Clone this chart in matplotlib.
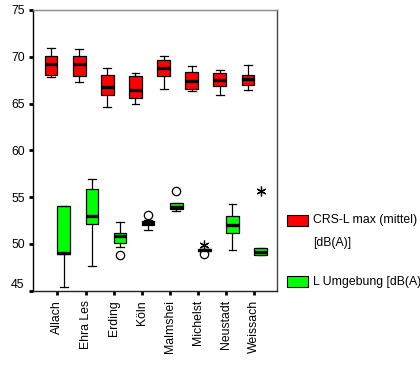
import matplotlib
matplotlib.use("Agg")
import matplotlib.pyplot as plt
from matplotlib.patches import Rectangle
from matplotlib.transforms import ScaledTranslation

plt.rcParams['font.family'] = ['Liberation Sans', 'DejaVu Sans']

sites = ["Allach", "Ehra Les", "Erding", "Köln", "Malmshei",
         "Michelst", "Neustadt", "Weissach"]

# CRS-L max (mittel) [dB(A)]: whisker low, Q1, median, Q3, whisker high
crs_whislo = [67.8, 67.3, 64.6, 65.0, 66.5, 66.3, 65.9, 66.4]
crs_q1     = [68.0, 67.9, 65.9, 65.6, 67.9, 66.6, 66.9, 67.0]
crs_med    = [69.2, 69.2, 66.8, 66.4, 68.75, 67.4, 67.5, 67.6]
crs_q3     = [70.1, 70.1, 68.0, 67.9, 69.6, 68.4, 68.3, 68.1]
crs_whishi = [70.9, 70.8, 68.8, 68.3, 70.1, 69.0, 68.6, 69.1]

# L Umgebung [dB(A)]
umg_whislo = [45.4, 47.6, 49.6, 51.5, 53.5, 49.2, 49.3, 48.75]
umg_q1     = [48.9, 52.1, 50.1, 52.0, 53.75, 49.2, 51.1, 48.75]
umg_med    = [49.0, 53.0, 50.8, 52.25, 53.9, 49.3, 52.05, 49.1]
umg_q3     = [54.0, 55.85, 51.1, 52.4, 54.4, 49.45, 53.0, 49.5]
umg_whishi = [54.0, 56.9, 52.3, 52.5, 54.4, 49.45, 54.2, 49.5]
# outliers (circles) and extremes (asterisks) per site
umg_outliers = [[], [], [48.75], [53.1], [55.6], [48.9], [], []]
umg_extremes = [[], [], [], [], [], [49.85], [], [55.6]]

FS = 8.8

fig = plt.figure(figsize=(4.2, 3.65), dpi=100)
ax = fig.add_axes([33/420, 1 - 290.5/365, 244/420, 280.5/365])

def make_stats(lo, q1, med, q3, hi, fl):
    return [dict(whislo=a, q1=b, med=c, q3=d, whishi=e, fliers=f)
            for a, b, c, d, e, f in zip(lo, q1, med, q3, hi, fl)]

offset = 0.225
width = 0.45
pos = list(range(len(sites)))

common = dict(widths=width, capwidths=0.28, patch_artist=True,
              boxprops=dict(edgecolor='black', linewidth=0.9),
              whiskerprops=dict(color='black', linewidth=0.9),
              capprops=dict(color='black', linewidth=0.9),
              medianprops=dict(color='black', linewidth=2.4, solid_capstyle='butt'),
              flierprops=dict(marker='o', markerfacecolor='white',
                              markeredgecolor='black', markersize=6,
                              markeredgewidth=0.9))

b1 = ax.bxp(make_stats(crs_whislo, crs_q1, crs_med, crs_q3, crs_whishi,
                       [[] for _ in sites]),
            positions=[p - offset for p in pos], **common)
b2 = ax.bxp(make_stats(umg_whislo, umg_q1, umg_med, umg_q3, umg_whishi,
                       umg_outliers),
            positions=[p + offset for p in pos], **common)
for b in b1['boxes']:
    b.set_facecolor('#ff0000')
for b in b2['boxes']:
    b.set_facecolor('#00ff00')

for i, ext in enumerate(umg_extremes):
    if ext:
        ax.plot([pos[i] + offset] * len(ext), ext, linestyle='none',
                marker=(6, 2, 0), markersize=7, color='black',
                markeredgewidth=0.9)

ax.set_xlim(-0.87, 7.81)
ax.set_ylim(45, 75)
ax.set_yticks([45, 50, 55, 60, 65, 70, 75])
ax.set_xticks(pos)
ax.set_xticklabels(sites, rotation=90, va='top', ha='center')
ax.tick_params(axis='both', direction='out', length=3, width=2,
               labelsize=FS, color='black', pad=3)
ax.tick_params(axis='x', pad=4)

ax.spines['left'].set_color('black')
ax.spines['bottom'].set_color('#222222')
ax.spines['top'].set_color('#888888')
ax.spines['right'].set_color('#444444')
for s in ax.spines.values():
    s.set_linewidth(1.0)

# lift the lowest y label so it sits clear of the x axis line
for lab in ax.get_yticklabels():
    if lab.get_text() == '45':
        lab.set_transform(lab.get_transform() +
                          ScaledTranslation(0, 7/100, fig.dpi_scale_trans))

# legend drawn beside the plot area
def px(x, y):
    return x / 420, 1 - y / 365

for (y0, color) in [(226, '#ff0000'), (287, '#00ff00')]:
    fig.add_artist(Rectangle(px(287, y0), 21/420, 11/365, transform=fig.transFigure,
                             facecolor=color, edgecolor='black', linewidth=0.8))
fig.text(*px(313, 220.5), "CRS-L max (mittel)", fontsize=FS, va='center', ha='left')
fig.text(*px(313, 243), "[dB(A)]", fontsize=FS, va='center', ha='left')
fig.text(*px(313, 281.5), "L Umgebung [dB(A)]", fontsize=FS, va='center', ha='left')

fig.savefig("out.png", dpi=100)
